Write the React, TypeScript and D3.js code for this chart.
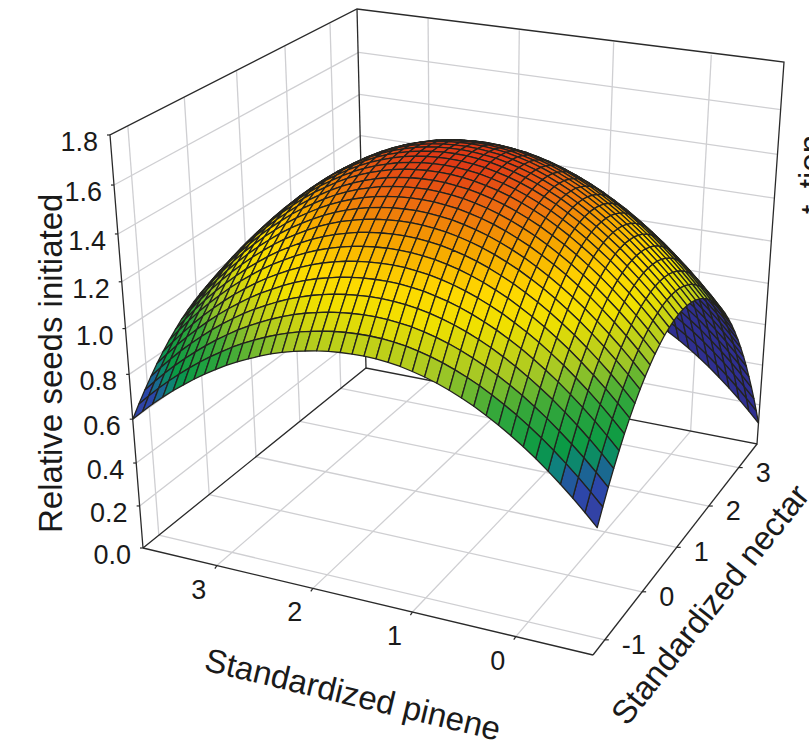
import React from "react";
import * as d3 from "d3";

// Height along the lowest-nectar edge of the surface, one value per mesh column (pinene high to low)
const edgeSeeds = [
  0.6, 0.645, 0.688, 0.729, 0.767, 0.803, 0.837, 0.869, 0.898, 0.926, 0.951, 0.973, 0.994, 1.013, 1.029, 1.043, 1.054,
  1.064, 1.071, 1.076, 1.079, 1.08, 1.078, 1.073, 1.066, 1.055, 1.042, 1.026, 1.007, 0.985, 0.961, 0.933, 0.903, 0.87,
  0.834, 0.796, 0.754, 0.71, 0.663, 0.613, 0.56,
];
// Height gained relative to that edge, one value per mesh row (nectar low to high)
const nectarGain = [
  0, 0.063, 0.122, 0.178, 0.23, 0.278, 0.322, 0.362, 0.399, 0.431, 0.46, 0.485, 0.506, 0.524, 0.537, 0.547, 0.553,
  0.555, 0.553, 0.548, 0.538, 0.525, 0.508, 0.487, 0.462, 0.434, 0.401, 0.365, 0.325, 0.281, 0.234, 0.182, 0.127,
  0.068, 0.005, -0.062, -0.133, -0.207, -0.285, -0.367, -0.453,
];
// The high-pinene shoulder sits lower than the two profiles alone give: size per column, weight per row
const shoulderDrop = [
  0.3, 0.271, 0.243, 0.217, 0.192, 0.169, 0.147, 0.127, 0.108, 0.091, 0.075, 0.061, 0.048, 0.037, 0.027, 0.019, 0.012,
  0.007, 0.003, 0.001, 0, 0, 0, 0, 0, 0, 0, 0, 0, 0, 0, 0, 0, 0, 0, 0, 0, 0, 0, 0, 0,
];
const shoulderWeight = [
  0, 0.059, 0.114, 0.167, 0.216, 0.263, 0.306, 0.347, 0.384, 0.419, 0.45, 0.479, 0.504, 0.527, 0.546, 0.563, 0.576,
  0.587, 0.594, 0.599, 0.6, 0.599, 0.594, 0.587, 0.576, 0.563, 0.546, 0.527, 0.504, 0.479, 0.45, 0.419, 0.384, 0.347,
  0.306, 0.263, 0.216, 0.167, 0.114, 0.059, 0,
];
const zTicks = [0, 0.2, 0.4, 0.6, 0.8, 1.0, 1.2, 1.4, 1.6, 1.8];
const pineneTicks = [3, 2, 1, 0];
const nectarTicks = [-1, 0, 1, 2, 3];
const colorStops = [0.5, 0.7, 0.76, 0.82, 0.95, 1.06, 1.2, 1.3, 1.43, 1.53, 1.62];
const colorValues = [
  "#3d3a9e", "#2a48aa", "#0f7f80", "#0a9a45", "#35a83a", "#a5c825", "#f0e000", "#ffd800", "#f5a000", "#ec6a10", "#e03a15",
];

type P = [number, number];
// Screen positions of the box corners
const A: P = [143, 548];
const B: P = [593, 655];
const C: P = [757, 444];
const D: P = [366, 368];
const Atop: P = [110, 135];
const Dtop: P = [357, 9];
const Ctop: P = [784, 62];

function buildProjection() {
  const dx1 = B[0] - C[0], dx2 = D[0] - C[0], sx = A[0] - B[0] + C[0] - D[0];
  const dy1 = B[1] - C[1], dy2 = D[1] - C[1], sy = A[1] - B[1] + C[1] - D[1];
  const det = dx1 * dy2 - dx2 * dy1;
  const g = (sx * dy2 - dx2 * sy) / det;
  const h = (dx1 * sy - sx * dy1) / det;
  const ax = B[0] - A[0] + g * B[0], ay = B[1] - A[1] + g * B[1];
  const bx = D[0] - A[0] + h * D[0], by = D[1] - A[1] + h * D[1];
  // Least-squares fit for the vertical perspective term
  const eqs: [number, number][] = [
    [Atop[0] - Dtop[0], Dtop[0] * (1 + h) - bx - Atop[0]],
    [Atop[1] - Dtop[1], Dtop[1] * (1 + h) - by - Atop[1]],
    [Ctop[0] - Atop[0], ax + bx + Atop[0] - Ctop[0] * (1 + g + h)],
    [Ctop[1] - Atop[1], ay + by + Atop[1] - Ctop[1] * (1 + g + h)],
  ];
  const i = d3.sum(eqs, (e) => e[0] * e[1]) / d3.sum(eqs, (e) => e[0] * e[0]);
  const cx = Atop[0] * (1 + i) - A[0], cy = Atop[1] * (1 + i) - A[1];
  const depth = (u: number, v: number, w: number) => 1 + g * u + h * v + i * w;
  const project = (u: number, v: number, w: number): P => {
    const d = depth(u, v, w);
    return [(A[0] + ax * u + bx * v + cx * w) / d, (A[1] + ay * u + by * v + cy * w) / d];
  };
  return { project, depth };
}
const { project, depth } = buildProjection();

const uScale = d3.scaleLinear().domain([3.795, -0.723]).range([0, 1]);
const vScale = d3.scaleLinear().domain([-1.3, 3.65]).range([0, 1]);
const wScale = d3.scaleLinear().domain([0, 1.8]).range([0, 1]);
const color = d3.scaleLinear<string>().domain(colorStops).range(colorValues).clamp(true);
const line = d3.line<P>();

const FONT = "'Liberation Sans', Arial, sans-serif";
const GRID = "#cfcfd2";
const AXIS = "#2a2a2a";

function Seg({ a, b, stroke, w }: { a: P; b: P; stroke: string; w: number }) {
  return <path d={line([a, b]) as string} stroke={stroke} strokeWidth={w} fill="none" />;
}

function buildCells() {
  const cols = edgeSeeds.length - 1;
  const rows = nectarGain.length - 1;
  const height = (i: number, j: number) => edgeSeeds[i] + nectarGain[j] - shoulderDrop[i] * shoulderWeight[j];
  const cells: { d: string; fill: string; depth: number }[] = [];
  for (let i = 0; i < cols; i++) {
    for (let j = 0; j < rows; j++) {
      const corners: [number, number][] = [[i, j], [i + 1, j], [i + 1, j + 1], [i, j + 1]];
      const pts = corners.map(([a, b]) => project(a / cols, b / rows, wScale(height(a, b))));
      const zMean = d3.mean(corners, ([a, b]) => height(a, b)) as number;
      const up = d3.polygonArea(pts) > 0;
      cells.push({
        d: (line(pts) as string) + "Z",
        fill: up ? color(zMean) : "#2f2f90",
        depth: depth((i + 0.5) / cols, (j + 0.5) / rows, wScale(zMean)),
      });
    }
  }
  return cells.sort((a, b) => b.depth - a.depth);
}

export default function App() {
  const cells = buildCells();
  return (
    <svg width={809} height={743} style={{ position: "absolute", left: 0, top: 0, background: "#fff" }}>
      {/* Walls and floor grid */}
      {zTicks.slice(1, -1).map((z) => (
        <g key={z}>
          <Seg a={project(0, 0, wScale(z))} b={project(0, 1, wScale(z))} stroke={GRID} w={1.3} />
          <Seg a={project(0, 1, wScale(z))} b={project(1, 1, wScale(z))} stroke={GRID} w={1.3} />
        </g>
      ))}
      {nectarTicks.map((n) => (
        <g key={n}>
          <Seg a={project(0, vScale(n), 0)} b={project(0, vScale(n), 1)} stroke={GRID} w={1.3} />
          <Seg a={project(0, vScale(n), 0)} b={project(1, vScale(n), 0)} stroke={GRID} w={1.3} />
        </g>
      ))}
      {pineneTicks.map((p) => (
        <g key={p}>
          <Seg a={project(uScale(p), 1, 0)} b={project(uScale(p), 1, 1)} stroke={GRID} w={1.3} />
          <Seg a={project(uScale(p), 0, 0)} b={project(uScale(p), 1, 0)} stroke={GRID} w={1.3} />
        </g>
      ))}
      {/* Box frame */}
      <path
        d={line([A, Atop, Dtop, Ctop, C, D, A]) as string}
        fill="none"
        stroke={AXIS}
        strokeWidth={1.3}
      />
      <Seg a={Dtop} b={D} stroke={AXIS} w={1.3} />
      <Seg a={A} b={B} stroke={AXIS} w={1.3} />
      <Seg a={B} b={C} stroke={AXIS} w={1.3} />
      {/* Surface */}
      <g stroke="#23231f" strokeWidth={1.3} strokeLinejoin="round">
        {cells.map((c, k) => (
          <path key={k} d={c.d} fill={c.fill} />
        ))}
      </g>
      {/* Ticks and tick labels */}
      <g fontFamily={FONT} fill="#1a1a1a" fontSize={27}>
        {zTicks.map((z) => {
          const [x, y] = project(0, 0, wScale(z));
          return (
            <g key={z}>
              <Seg a={[x, y]} b={[x - 3, y]} stroke={AXIS} w={1.2} />
              <text x={x - 12} y={y + 16} textAnchor="end">
                {d3.format(".1f")(z)}
              </text>
            </g>
          );
        })}
        {pineneTicks.map((p) => {
          const [x, y] = project(uScale(p), 0, 0);
          return (
            <g key={p}>
              <Seg a={[x, y]} b={[x - 2, y + 3]} stroke={AXIS} w={1.2} />
              <text x={x - 18} y={y + 33} textAnchor="middle">
                {p}
              </text>
            </g>
          );
        })}
        {nectarTicks.map((n) => {
          const [x, y] = project(1, vScale(n), 0);
          return (
            <g key={n}>
              <Seg a={[x, y]} b={[x + 4, y]} stroke={AXIS} w={1.2} />
              <text x={x + 17} y={y + 14}>
                {n}
              </text>
            </g>
          );
        })}
      </g>
      {/* Axis titles */}
      <g fontFamily={FONT} fill="#1a1a1a" fontSize={33}>
        <text transform="translate(62,533) rotate(-90)">Relative seeds initiated</text>
        <text transform="translate(203,670) rotate(13.5)">Standardized pinene</text>
        <text transform="translate(627,727) rotate(-51.5)">Standardized nectar</text>
        <text transform="translate(822,135) rotate(-90)" textAnchor="end">
          tion
        </text>
        <text transform="translate(824,214) rotate(-90)">t</text>
      </g>
    </svg>
  );
}
